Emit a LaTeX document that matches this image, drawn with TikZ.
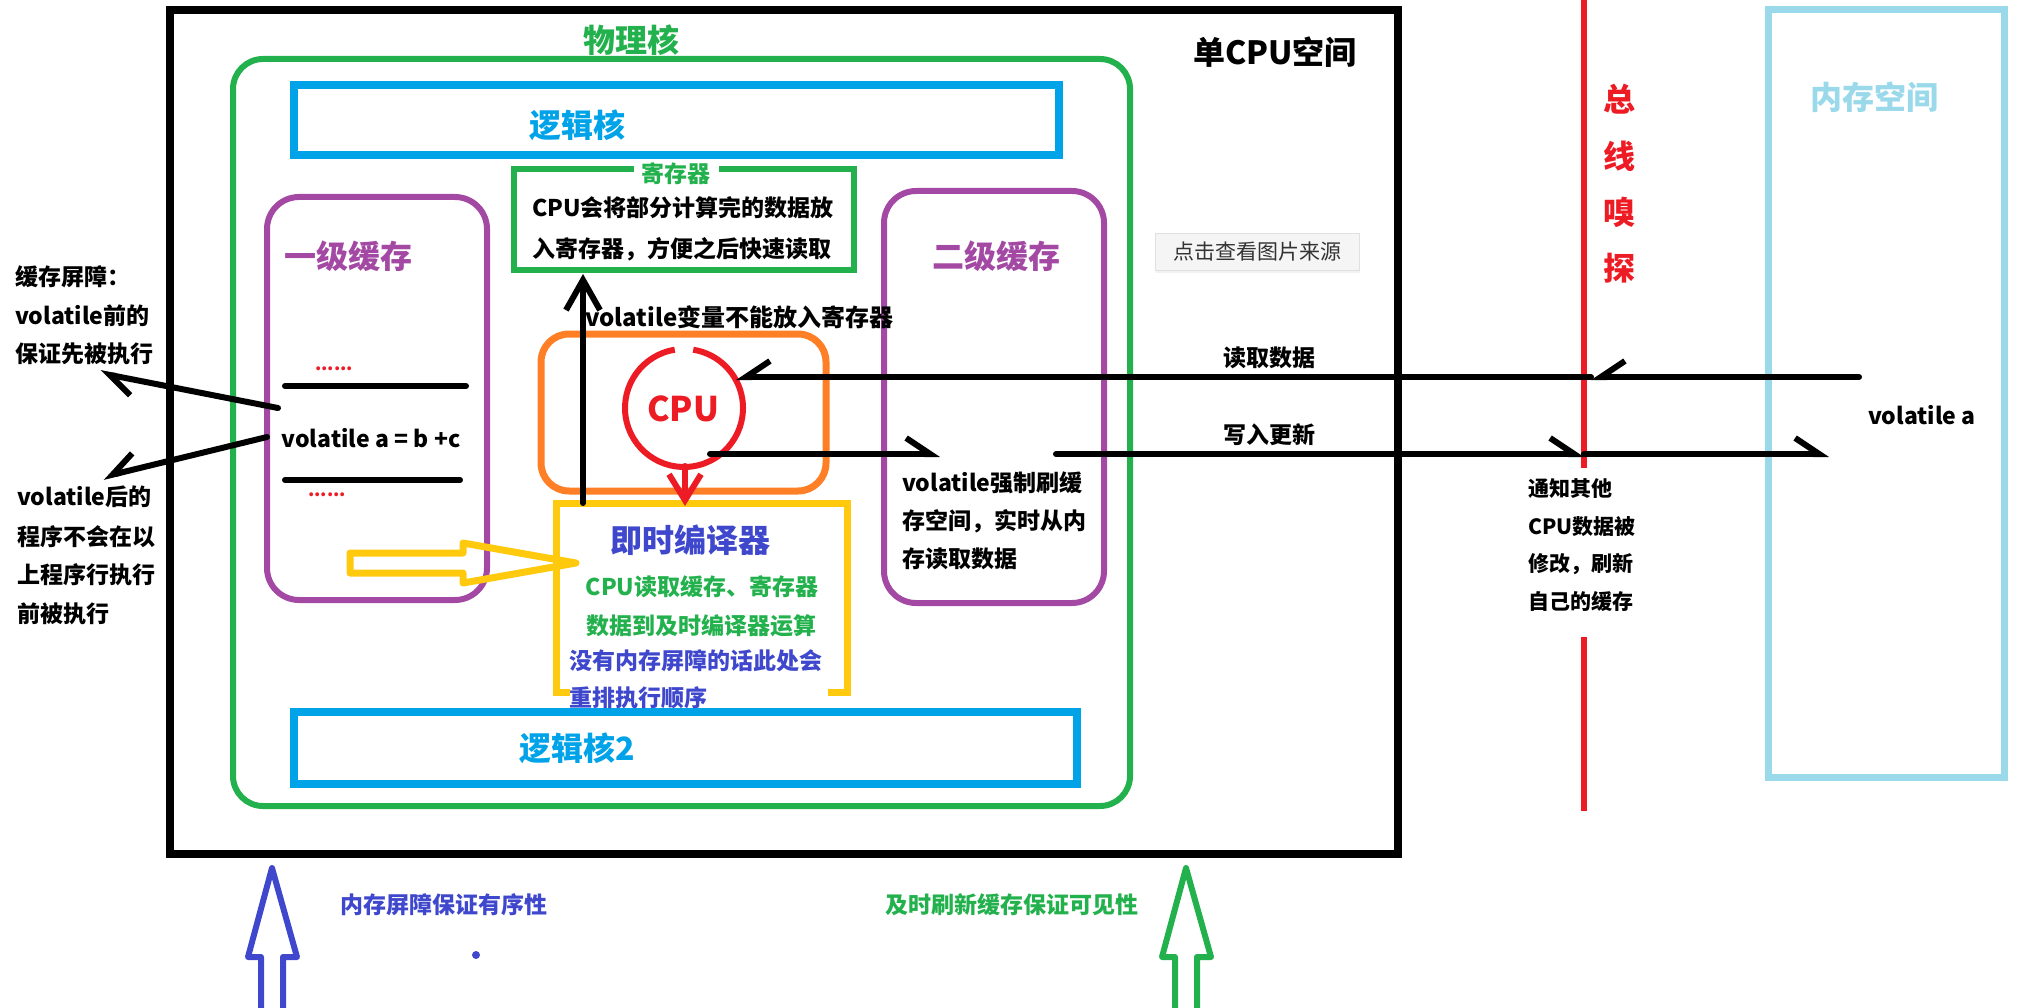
\documentclass[tikz,border=0pt]{standalone}
\usepackage{fontspec}
\setmainfont{Noto Sans CJK SC}
\usetikzlibrary{arrows.meta,shadows}
\definecolor{pgreen}{HTML}{22B14C}
\definecolor{pblue}{HTML}{00A2E8}
\definecolor{ppurple}{HTML}{A349A4}
\definecolor{porange}{HTML}{FF7F27}
\definecolor{pred}{HTML}{ED1C24}
\definecolor{pyellow}{HTML}{FFC90E}
\definecolor{pindigo}{HTML}{3F48CC}
\definecolor{plblue}{HTML}{99D9EA}
\definecolor{pgray}{HTML}{333333}
\tikzset{
  txt/.style={font=\fontsize{23}{30}\selectfont\bfseries, inner sep=0pt},
  txtb/.style={font=\fontsize{24}{30}\selectfont\bfseries, inner sep=0pt},
  txts/.style={font=\fontsize{21}{28}\selectfont\bfseries, inner sep=0pt},
  ttl/.style={font=\fontsize{32}{36}\selectfont\bfseries, inner sep=0pt},
  boxn/.style={draw, inner sep=0pt},
  lineb/.style={line width=6pt, line cap=round},
  harpL/.style={lineb, -{Straight Barb[left,length=24pt,width=32pt]}},
  harpR/.style={lineb, -{Straight Barb[right,length=24pt,width=32pt]}},
  vee/.style={lineb, -{Straight Barb[length=30pt,width=34pt]}},
  hollow/.style={line width=6pt, line join=round, fill=white},
  dots/.style={font=\fontsize{18}{20}\selectfont\bfseries, text=pred, inner sep=0pt},
}
\begin{document}
\begin{tikzpicture}[x=1pt,y=-1pt]
\useasboundingbox (0,0) rectangle (2020,1008);

% outer single CPU space
\node[boxn, line width=8pt, minimum width=1228pt, minimum height=844pt] (cpuspace) at (784,432) {};
\node[ttl, anchor=west] (cpuspacelbl) at (1193,52) {单CPU空间};

% physical core
\node[boxn, draw=pgreen, line width=6pt, rounded corners=30pt, minimum width=897pt, minimum height=747pt] (phys) at (681.5,432.5) {};
\node[ttl, text=pgreen] (physlbl) at (631,40) {物理核};

% logical cores
\node[boxn, draw=pblue, line width=8pt, minimum width=765pt, minimum height=70pt] (lcore) at (676.5,120) {};
\node[ttl, text=pblue] (lcorelbl) at (577,125) {逻辑核};
\node[boxn, draw=pblue, line width=8pt, minimum width=783pt, minimum height=72pt] (lcore2) at (685.5,748) {};
\node[ttl, text=pblue] (lcore2lbl) at (577,748) {逻辑核2};

% register
\node[boxn, draw=pgreen, line width=6pt, minimum width=340pt, minimum height=101pt] (reg) at (684,219.5) {};
\node[txt, text=pgreen, fill=white, inner xsep=8pt, inner ysep=2pt] (reglbl) at (676,174) {寄存器};
\node[txt, anchor=west] (regt1) at (532,208) {CPU会将部分计算完的数据放};
\node[txt, anchor=west] (regt2) at (532,249) {入寄存器，方便之后快速读取};

% L1 cache
\node[boxn, draw=ppurple, line width=6pt, rounded corners=32pt, minimum width=220pt, minimum height=403pt] (l1) at (377,398.5) {};
\node[ttl, text=ppurple] (l1lbl) at (348,256) {一级缓存};
\node[dots] (dots1) at (334,369) {......};
\coordinate (l1a) at (285,386);
\coordinate (l1b) at (466,386);
\draw[lineb] (l1a) -- (l1b);
\node[txt] (vabc) at (371,438) {volatile a = b +c};
\coordinate (l1c) at (285,480);
\coordinate (l1d) at (460,480);
\draw[lineb] (l1c) -- (l1d);
\node[dots] (dots2) at (327,495) {......};

% L2 cache
\node[boxn, draw=ppurple, line width=6pt, rounded corners=32pt, minimum width=220pt, minimum height=412pt] (l2) at (994,397) {};
\node[ttl, text=ppurple] (l2lbl) at (996,256) {二级缓存};
\node[txt, anchor=west] (l2t1) at (902,483) {volatile强制刷缓};
\node[txt, anchor=west] (l2t2) at (902,521) {存空间，实时从内};
\node[txt, anchor=west] (l2t3) at (902,559) {存读取数据};

% source button
\node[draw=black!12, fill=black!4, drop shadow={opacity=0.10, shadow xshift=1pt, shadow yshift=-3pt},
      minimum width=204pt, minimum height=37pt, inner sep=0pt,
      font=\fontsize{21}{24}\selectfont, text=pgray] (src) at (1257,251.5) {点击查看图片来源};

% CPU container
\node[boxn, draw=porange, line width=7pt, rounded corners=28pt, minimum width=285pt, minimum height=157pt] (cpubox) at (683.5,412.5) {};
\node[circle, minimum size=118pt, inner sep=0pt] (cpu) at (684,408) {};
\draw[pred, line width=6pt] ([shift={(99:59pt)}]cpu.center) arc[start angle=99, end angle=441, radius=59pt];
\node[ttl, text=pred, font=\fontsize{34}{36}\selectfont\bfseries] (cpulbl) at (683,409) {CPU};

% JIT compiler (open-bottom box)
\coordinate (jbl) at (570,692);
\coordinate (jtl) at (556,503);
\coordinate (jbr) at (847,692);
\coordinate (jbr2) at (828,692);
\draw[pyellow, line width=7pt, line join=miter] (jbl) -| (jtl) -| (jbr) -- (jbr2);
\node[ttl, text=pindigo] (jitlbl) at (690,540) {即时编译器};
\node[txt, text=pgreen] (jit1) at (702,587) {CPU读取缓存、寄存器};
\node[txt, text=pgreen] (jit2) at (701,626) {数据到及时编译器运算};
\node[txt, text=pindigo, anchor=west] (jit3) at (569,661) {没有内存屏障的话此处会};
\node[txt, text=pindigo, anchor=west] (jit4) at (569,698) {重排执行顺序};

% yellow hollow arrow
\draw[pyellow, line width=7pt, line join=round] (350,553) -- (463,553) -- (463,543) -- (576,563) -- (463,583) -- (463,573) -- (350,573) -- cycle;

% CPU -> JIT red arrow
\coordinate (cpubot) at (685,466);
\coordinate (jittop) at (685,506);
\draw[lineb, pred, -{Straight Barb[length=26pt,width=32pt]}] (cpubot) -- (jittop);

% JIT -> register black arrow
\coordinate (jitup) at (583,503);
\coordinate (regbot) at (583,274);
\draw[vee] (jitup) -- (regbot);
\node[txtb, anchor=west] (novol) at (585,317) {volatile变量不能放入寄存器};

% bus snooping line
\coordinate (bus1) at (1584,0);
\coordinate (bus2) at (1584,468);
\coordinate (bus3) at (1584,637);
\coordinate (bus4) at (1584,811);
\draw[pred, line width=6pt] (bus1) -- (bus2);
\draw[pred, line width=6pt] (bus3) -- (bus4);
\node[ttl, text=pred] (bs1) at (1619,99) {总};
\node[ttl, text=pred] (bs2) at (1619,156) {线};
\node[ttl, text=pred] (bs3) at (1619,212) {嗅};
\node[ttl, text=pred] (bs4) at (1619,268) {探};
\node[txts, anchor=west] (nt1) at (1528,489) {通知其他};
\node[txts, anchor=west] (nt2) at (1528,527) {CPU数据被};
\node[txts, anchor=west] (nt3) at (1528,564) {修改，刷新};
\node[txts, anchor=west] (nt4) at (1528,601) {自己的缓存};

% memory space
\node[boxn, draw=plblue, line width=7pt, minimum width=236pt, minimum height=767pt] (mem) at (1886,393.5) {};
\node[ttl, text=plblue] (memlbl) at (1874,97) {内存空间};
\node[txt] (vola) at (1922,415) {volatile a};

% read data arrow
\coordinate (rdstart) at (1859,377);
\coordinate (rdbus) at (1591,377);
\coordinate (rdend) at (736,377);
\draw[harpR] (rdstart) -- (rdbus);
\draw[harpR] (rdbus) -- (rdend);
\node[txt] (rdlbl) at (1269,358) {读取数据};

% write update arrow
\coordinate (wr1) at (710,454);
\coordinate (wr2) at (940,454);
\coordinate (wr3) at (1056,454);
\coordinate (wrbus) at (1584,454);
\coordinate (wr4) at (1829,454);
\draw[harpL] (wr1) -- (wr2);
\draw[harpL] (wr3) -- (wrbus);
\draw[harpL] (wrbus) -- (wr4);
\node[txt] (wrlbl) at (1269,435) {写入更新};

% left annotations
\node[txt, anchor=west] (ba1) at (15,277) {缓存屏障：};
\node[txt, anchor=west] (ba2) at (15,316) {volatile前的};
\node[txt, anchor=west] (ba3) at (15,354) {保证先被执行};
\node[txt, anchor=west] (bb1) at (17,497) {volatile后的};
\node[txt, anchor=west] (bb2) at (17,537) {程序不会在以};
\node[txt, anchor=west] (bb3) at (17,575) {上程序行执行};
\node[txt, anchor=west] (bb4) at (17,614) {前被执行};
\coordinate (la1) at (278,408);
\coordinate (la1e) at (100,373);
\coordinate (la2) at (267,437);
\coordinate (la2e) at (103,477);
\draw[harpL] (la1) -- (la1e);
\draw[harpR] (la2) -- (la2e);

% bottom hollow arrows
\draw[hollow, draw=pindigo] (261,1012) -- (261,957) -- (248,957) -- (272,868) -- (297,957) -- (283,957) -- (283,1012);
\node[txt, text=pindigo] (ordlbl) at (444,905) {内存屏障保证有序性};
\fill[pindigo] (476,955) circle[radius=4pt];
\draw[hollow, draw=pgreen] (1175,1012) -- (1175,957) -- (1162,957) -- (1186,868) -- (1211,957) -- (1197,957) -- (1197,1012);
\node[txt, text=pgreen] (vislbl) at (1012,905) {及时刷新缓存保证可见性};
\end{tikzpicture}
\end{document}
